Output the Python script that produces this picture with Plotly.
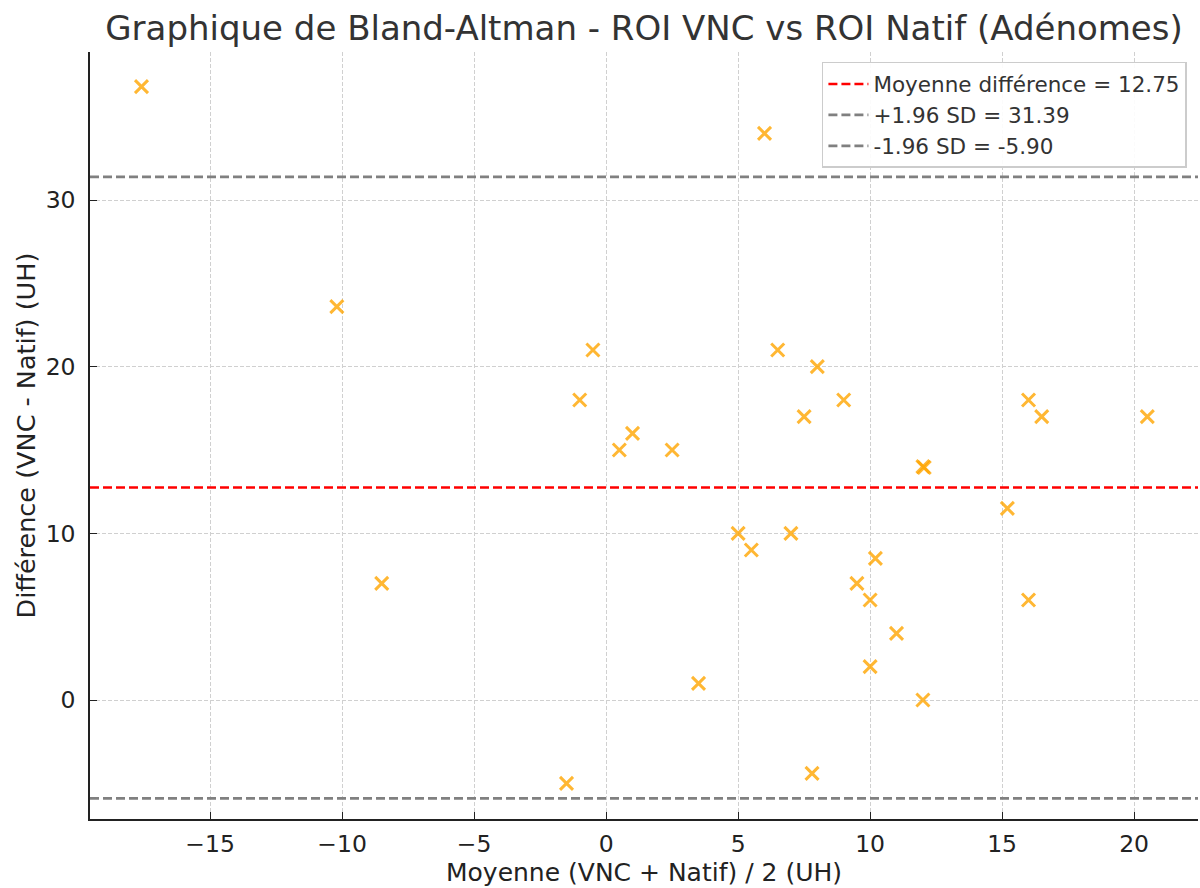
import plotly.graph_objects as go

# Data
moyenne = [-17.6, -10.2, -8.5, -1.5, -1.0, -0.5, 0.5, 1.0, 2.5, 3.5, 5.0, 5.5, 6.0, 6.5,
           7.0, 7.5, 7.8, 8.0, 9.0, 9.5, 10.0, 10.2, 10.0, 11.0, 12.0, 12.05, 12.0, 15.2,
           16.0, 16.5, 16.0, 20.5]
difference = [36.8, 23.6, 7.0, -5.0, 18.0, 21.0, 15.0, 16.0, 15.0, 1.0, 10.0, 9.0, 34.0, 21.0,
              10.0, 17.0, -4.4, 20.0, 18.0, 7.0, 6.0, 8.5, 2.0, 4.0, 14.0, 13.95, 0.0, 11.5,
              18.0, 17.0, 6.0, 17.0]

mean_diff = 12.75
upper_loa = 31.39
lower_loa = -5.90

x_range = [-19.55, 22.42]
y_range = [-7.14, 38.88]

title = "Graphique de Bland-Altman - ROI VNC vs ROI Natif (Adénomes)"
x_label = "Moyenne (VNC + Natif) / 2 (UH)"
y_label = "Différence (VNC - Natif) (UH)"

FONT = "DejaVu Sans"

fig = go.Figure()

fig.add_trace(go.Scatter(
    x=moyenne, y=difference, mode="markers", showlegend=False,
    marker=dict(symbol="x-thin", size=13,
                line=dict(width=3, color="rgba(255,165,0,0.8)"),
                color="rgba(255,165,0,0.8)"),
))

lines = [
    (mean_diff, "red", f"Moyenne différence = {mean_diff:.2f}"),
    (upper_loa, "gray", f"+1.96 SD = {upper_loa:.2f}"),
    (lower_loa, "gray", f"-1.96 SD = {lower_loa:.2f}"),
]
for yv, col, name in lines:
    fig.add_trace(go.Scatter(
        x=x_range, y=[yv, yv], mode="lines", name=name,
        line=dict(color=col, width=2.6, dash="9px,4px"),
    ))

axis_common = dict(
    showline=True, linecolor="#222222", linewidth=1.5, mirror=False,
    ticks="inside", ticklen=7, tickwidth=1.3, tickcolor="#222222",
    showgrid=True, gridcolor="#d0d0d0", gridwidth=1, griddash="4px,2px",
    zeroline=False,
    tickfont=dict(family=FONT, size=23.5, color="#222222"),
)

fig.update_layout(
    width=1200, height=888,
    margin=dict(l=90, r=2, t=52, b=69),
    paper_bgcolor="white", plot_bgcolor="white",
    title=dict(text=title, x=644 / 1200, xanchor="center",
               y=1 - 28 / 888, yanchor="middle",
               font=dict(family=FONT, size=34, color="#333333")),
    xaxis=dict(range=x_range, dtick=5, tick0=0, ticklabelstandoff=3,
               title=dict(text=x_label, font=dict(family=FONT, size=25, color="#222222"), standoff=1),
               **axis_common),
    yaxis=dict(range=y_range, dtick=10, tick0=0, ticklabelstandoff=8,
               title=dict(text=y_label, font=dict(family=FONT, size=25.5, color="#222222"), standoff=3),
               **axis_common),
    legend=dict(x=0.990, y=0.987, xanchor="right", yanchor="top",
                bgcolor="rgba(255,255,255,0.9)", bordercolor="#cccccc", borderwidth=1.5,
                font=dict(family=FONT, size=21.5, color="#333333"),
                itemwidth=40),
)

fig.write_html("out.html")
